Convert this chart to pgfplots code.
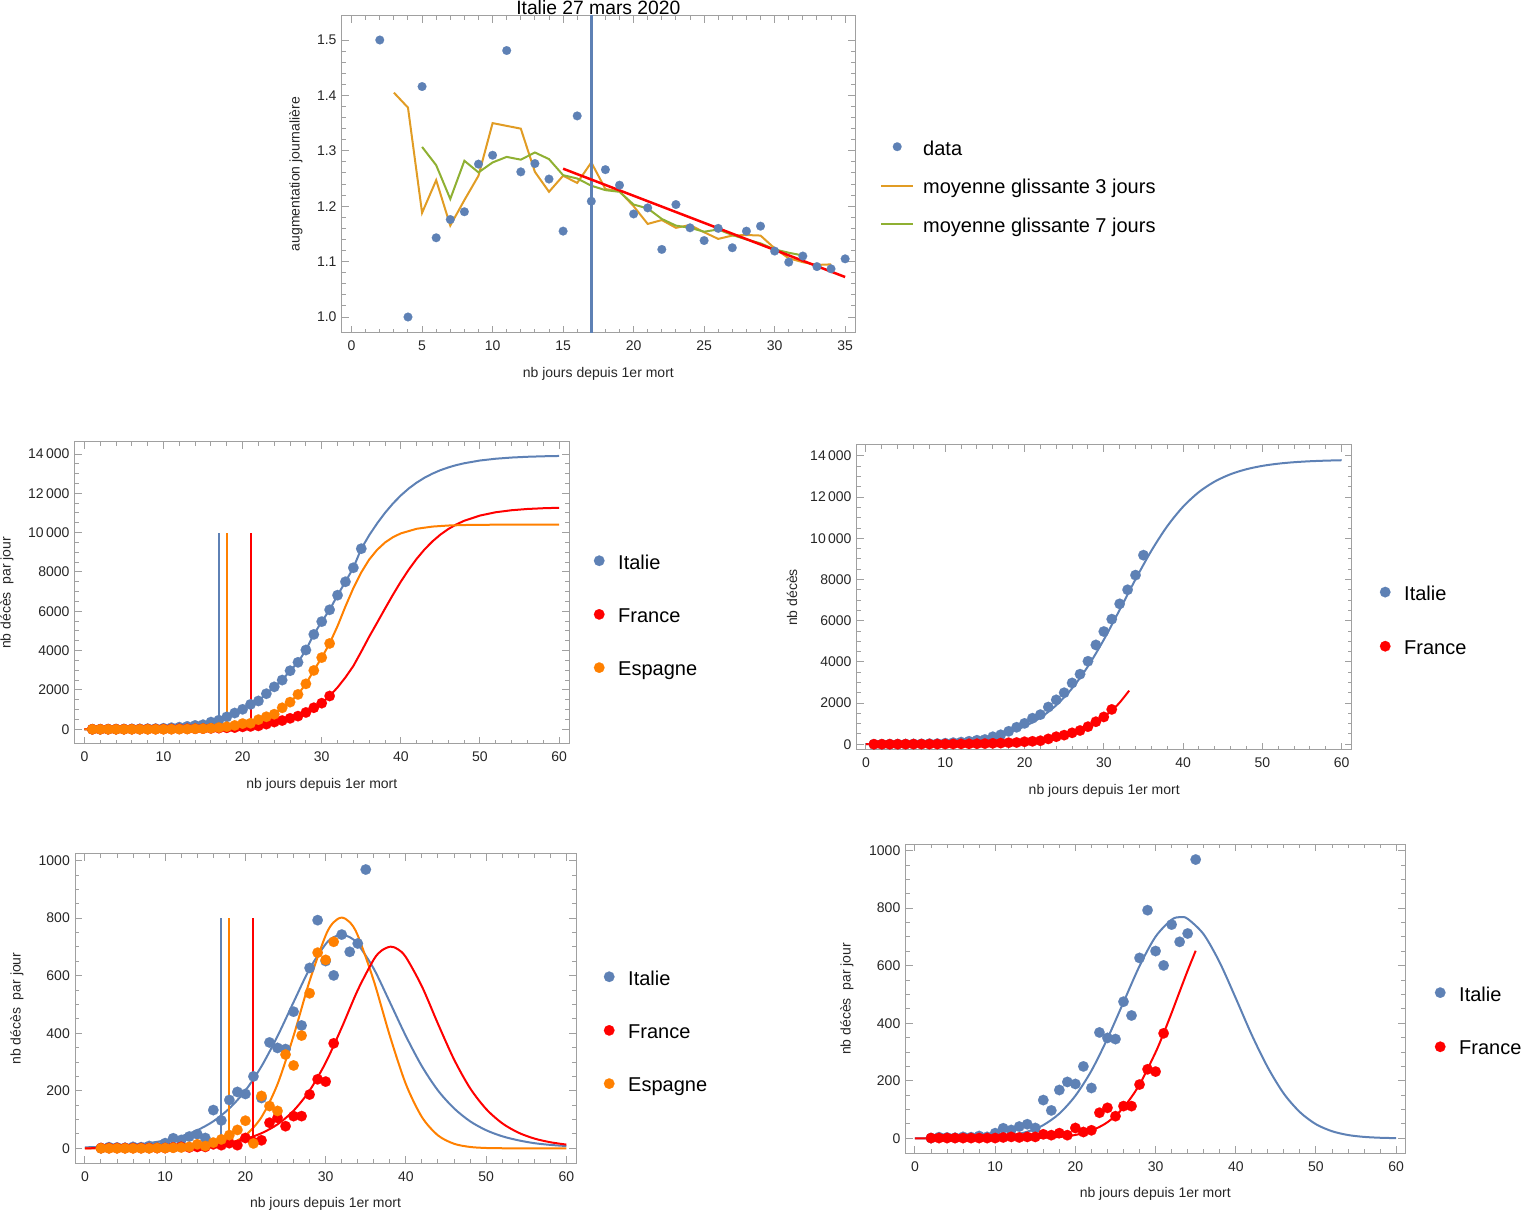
\documentclass[border=0pt]{standalone}
\usepackage{fontspec}
\setmainfont{Liberation Sans}
\usepackage{pgfplots}
\pgfplotsset{compat=1.18}
\definecolor{mblue}{HTML}{5E81B5}
\definecolor{morange}{HTML}{E19C24}
\definecolor{mgreen}{HTML}{8FB032}
\definecolor{mred}{HTML}{FF0000}
\definecolor{orng}{HTML}{FF8000}
\definecolor{framegray}{HTML}{A0A0A0}
\definecolor{txtgray}{HTML}{262626}
\pgfplotsset{
  mma/.style={
    scale only axis,
    axis line style={draw=framegray, line width=1pt},
    tick style={draw=framegray, line width=1pt},
    tick align=inside,
    tick pos=both,
    major tick length=7pt,
    minor tick length=4pt,
    scaled ticks=false,
    /pgf/number format/assume math mode=true,
    tick label style={font=\fontsize{14}{16}\selectfont, text=txtgray},
    xticklabel style={anchor=north, inner sep=0pt, yshift=-8pt},
    yticklabel style={anchor=east, inner sep=0pt, xshift=-5pt},
    label style={font=\fontsize{14}{16}\selectfont, text=txtgray},
    legend cell align=left,
    legend style={draw=none, fill=none, inner sep=0pt, anchor=west,
      font=\fontsize{20}{24}\selectfont, row sep=38pt, column sep=13.7pt,
      nodes={inner sep=0pt}},
    legend image code/.code={\draw[mark repeat=2,mark phase=2,#1] plot coordinates {(0pt,2pt) (10pt,2pt) (20pt,2pt)};},
  },
  dots/.style={only marks, mark=*, mark size=5.3pt, mark options={line width=0.1pt}},
  curve/.style={no marks, line width=2pt},
}
\begin{document}
\begin{tikzpicture}
\useasboundingbox (0pt,0pt) rectangle (1522pt,1212pt);

% ---------------- Panel 1 (top) ----------------
\begin{axis}[mma, at={(341.7pt,879.3pt)}, anchor=south west,
  width=513.3pt, height=317pt,
  xmin=-0.7, xmax=35.7, ymin=0.9717, ymax=1.5439,
  xtick={0,5,10,15,20,25,30,35}, xticklabels={0,5,10,15,20,25,30,35}, minor x tick num=4,
  ytick={1.0,1.1,1.2,1.3,1.4,1.5}, yticklabels={1.0,1.1,1.2,1.3,1.4,1.5}, minor y tick num=4,
  xlabel={nb jours depuis 1er mort}, ylabel={augmentation journalière},
  xlabel style={at={(axis description cs:0.5,-0.1303)}, anchor=center},
  ylabel style={at={(axis description cs:-0.089,0.5)}, anchor=center},
  title={Italie 27 mars 2020},
  every axis title shift=0pt,
  title style={at={(axis description cs:0.5,1)}, anchor=base, yshift=1.3pt, inner sep=0pt, font=\fontsize{19.3}{22}\selectfont, text=black},
  legend style={at={(1.0487,0.4580)}, row sep=22.8pt, column sep=9pt},
  legend image code/.code={\draw[mark repeat=2,mark phase=2,#1] plot coordinates {(0pt,2pt) (16pt,2pt) (32pt,2pt)};},
]
\addplot[only marks, mark=*, mark size=4.4pt, mark options={line width=0.1pt}, color=mblue] coordinates {
(2,1.500) (4,1.000) (5,1.416) (6,1.143) (7,1.176) (8,1.190) (9,1.276) (10,1.292)
(11,1.481) (12,1.262) (13,1.277) (14,1.249) (15,1.155) (16,1.363) (17,1.209) (18,1.266)
(19,1.238) (20,1.186) (21,1.197) (22,1.122) (23,1.203) (24,1.161) (25,1.138) (26,1.160)
(27,1.125) (28,1.155) (29,1.164) (30,1.119) (31,1.099) (32,1.110) (33,1.091) (34,1.087) (35,1.105)};
\addlegendentry{data}
\addplot[no marks, line width=2pt, color=morange] coordinates {
(3,1.405) (4,1.378) (5,1.188) (6,1.247) (7,1.165) (8,1.211) (9,1.255) (10,1.350)
(11,1.345) (12,1.340) (13,1.262) (14,1.226) (15,1.255) (16,1.242) (17,1.279) (18,1.231)
(19,1.227) (20,1.200) (21,1.168) (22,1.175) (23,1.161) (24,1.166) (25,1.153) (26,1.141)
(27,1.147) (28,1.148) (29,1.147) (30,1.124) (31,1.106) (32,1.099) (33,1.094) (34,1.095)};
\addlegendentry{moyenne glissante 3 jours}
\addplot[no marks, line width=2pt, color=mgreen] coordinates {
(5,1.307) (6,1.274) (7,1.213) (8,1.282) (9,1.261) (10,1.279) (11,1.289) (12,1.284)
(13,1.297) (14,1.285) (15,1.256) (16,1.250) (17,1.237) (18,1.229) (19,1.226) (20,1.203)
(21,1.196) (22,1.177) (23,1.165) (24,1.161) (25,1.154) (26,1.158) (27,1.148) (28,1.140)
(29,1.133) (30,1.122) (31,1.116) (32,1.111)};
\addlegendentry{moyenne glissante 7 jours}
\addplot[no marks, line width=2.5pt, color=mblue, forget plot] coordinates {(17,0.9) (17,1.6)};
\addplot[no marks, line width=2.5pt, color=mred, forget plot] coordinates {(15,1.2677) (35,1.0722)};
\end{axis}

% ---------------- Panel 2 (middle left) ----------------
\begin{axis}[mma, at={(74.6pt,468pt)}, anchor=south west,
  width=494.4pt, height=302.3pt,
  xmin=-1.24, xmax=61.26, ymin=-748, ymax=14626,
  xtick={0,10,20,30,40,50,60}, xticklabels={0,10,20,30,40,50,60}, minor x tick num=4,
  ytick={0,2000,4000,6000,8000,10000,12000,14000},
  yticklabels={0,2000,4000,6000,8000,10\,000,12\,000,14\,000}, minor y tick num=3,
  xlabel={nb jours depuis 1er mort}, ylabel={nb décès\ \ par jour},
  xlabel style={at={(axis description cs:0.5,-0.1356)}, anchor=center},
  ylabel style={at={(axis description cs:-0.1367,0.5)}, anchor=center},
  legend style={at={(1.0500,0.4234)}},
]
\addplot[curve, color=mblue, forget plot] coordinates {
(0,1) (1,2) (2,3) (3,7) (4,10) (5,12) (6,17) (7,21) (8,29) (9,34) (10,52) (11,79) (12,107)
(13,148) (14,197) (15,233) (16,366) (17,463) (18,631) (19,827) (20,1016) (21,1266) (22,1441)
(23,1809) (24,2158) (25,2503) (26,2978) (27,3405) (28,4032) (29,4825) (30,5476) (31,6077)
(32,6820) (33,7503) (34,8215) (35,9184) (36,9868) (37,10469) (38,11007) (39,11481) (40,11893)
(41,12246) (42,12544) (43,12795) (44,13003) (45,13176) (46,13317) (47,13434) (48,13528)
(50,13669) (52,13760) (54,13820) (56,13859) (58,13884) (60,13900)};
\addplot[dots, color=mblue] coordinates {
(1,2) (2,3) (3,7) (4,10) (5,12) (6,17) (7,21) (8,29) (9,34) (10,52) (11,79) (12,107)
(13,148) (14,197) (15,233) (16,366) (17,463) (18,631) (19,827) (20,1016) (21,1266) (22,1441)
(23,1809) (24,2158) (25,2503) (26,2978) (27,3405) (28,4032) (29,4825) (30,5476) (31,6077)
(32,6820) (33,7503) (34,8215) (35,9184)};
\addlegendentry{Italie}
\addplot[curve, color=mred, forget plot] coordinates {
(0,2) (1,3) (2,4) (3,5) (4,6) (5,7) (6,8) (7,9) (8,10) (9,11) (10,12) (11,15) (12,20) (13,23)
(14,28) (15,33) (16,47) (17,58) (18,76) (19,87) (20,123) (21,145) (22,173) (23,262) (24,368)
(25,445) (26,557) (27,669) (28,856) (29,1096) (30,1328) (31,1693) (32,2130) (33,2640)
(34,3220) (35,3950) (36,4710) (37,5419) (38,6138) (39,6841) (40,7508) (41,8120) (42,8668)
(43,9148) (44,9557) (45,9900) (46,10184) (47,10415) (48,10602) (50,10869) (52,11038)
(54,11140) (56,11204) (58,11242) (60,11265)};
\addplot[dots, color=mred] coordinates {
(1,3) (2,4) (3,5) (4,6) (5,7) (6,8) (7,9) (8,10) (9,11) (10,12) (11,15) (12,20) (13,23)
(14,28) (15,33) (16,47) (17,58) (18,76) (19,87) (20,123) (21,145) (22,173) (23,262) (24,368)
(25,445) (26,557) (27,669) (28,856) (29,1096) (30,1328) (31,1693)};
\addlegendentry{France}
\addplot[curve, color=orng, forget plot] coordinates {
(0,0) (1,0) (2,0) (3,0) (4,0) (5,0) (6,0) (7,0) (8,0) (9,1) (10,2) (11,4) (12,7) (13,12)
(14,26) (15,34) (16,54) (17,85) (18,131) (19,195) (20,291) (21,308) (22,490) (23,637)
(24,767) (25,1093) (26,1381) (27,1773) (28,2312) (29,2992) (30,3647) (31,4365) (32,5250)
(33,6250) (34,7180) (35,7980) (36,8633) (37,9126) (38,9498) (39,9769) (40,9963) (42,10197)
(44,10309) (46,10363) (48,10388) (50,10400) (55,10408) (60,10410)};
\addplot[dots, color=orng] coordinates {
(1,0) (2,0) (3,0) (4,0) (5,0) (6,0) (7,0) (8,0) (9,1) (10,2) (11,4) (12,7) (13,12)
(14,26) (15,34) (16,54) (17,85) (18,131) (19,195) (20,291) (21,308) (22,490) (23,637)
(24,767) (25,1093) (26,1381) (27,1773) (28,2312) (29,2992) (30,3647) (31,4365)};
\addlegendentry{Espagne}
\addplot[curve, color=mblue, forget plot] coordinates {(17,0) (17,10000)};
\addplot[curve, color=orng, forget plot] coordinates {(18,0) (18,10000)};
\addplot[curve, color=mred, forget plot] coordinates {(21,0) (21,10000)};
\end{axis}

% ---------------- Panel 3 (middle right) ----------------
\begin{axis}[mma, at={(856.7pt,462pt)}, anchor=south west,
  width=495pt, height=305pt,
  xmin=-1.17, xmax=61.27, ymin=-277, ymax=14534,
  xtick={0,10,20,30,40,50,60}, xticklabels={0,10,20,30,40,50,60}, minor x tick num=4,
  ytick={0,2000,4000,6000,8000,10000,12000,14000},
  yticklabels={0,2000,4000,6000,8000,10\,000,12\,000,14\,000}, minor y tick num=3,
  xlabel={nb jours depuis 1er mort}, ylabel={nb décès},
  xlabel style={at={(axis description cs:0.5,-0.1344)}, anchor=center},
  ylabel style={at={(axis description cs:-0.1307,0.5)}, anchor=center},
  legend style={at={(1.0566,0.4230)}, row sep=38.5pt},
]
\addplot[curve, smooth, color=mblue, forget plot] coordinates {
(0,12) (2,19) (4,29) (6,45) (8,69) (10,106) (12,163) (14,249) (16,379) (18,575) (20,868)
(22,1292) (24,1895) (26,2718) (28,3785) (30,5079) (32,6528) (34,8012) (36,9399) (38,10589)
(40,11537) (42,12250) (44,12762) (46,13117) (48,13358) (50,13520) (52,13627) (54,13698)
(56,13744) (58,13774) (60,13794)};
\addplot[curve, smooth, color=mred, forget plot] coordinates {
(0,2.4) (4,5.7) (8,13) (12,30) (16,70) (18,107) (20,163) (22,248) (24,378) (26,575)
(28,874) (29,1079) (30,1331) (31,1641) (32,2026) (33.2,2606)};
\addplot[dots, color=mblue] coordinates {
(1,2) (2,3) (3,7) (4,10) (5,12) (6,17) (7,21) (8,29) (9,34) (10,52) (11,79) (12,107)
(13,148) (14,197) (15,233) (16,366) (17,463) (18,631) (19,827) (20,1016) (21,1266) (22,1441)
(23,1809) (24,2158) (25,2503) (26,2978) (27,3405) (28,4032) (29,4825) (30,5476) (31,6077)
(32,6820) (33,7503) (34,8215) (35,9184)};
\addlegendentry{Italie}
\addplot[dots, color=mred] coordinates {
(1,3) (2,4) (3,5) (4,6) (5,7) (6,8) (7,9) (8,10) (9,11) (10,12) (11,15) (12,20) (13,23)
(14,28) (15,33) (16,47) (17,58) (18,76) (19,87) (20,123) (21,145) (22,173) (23,262) (24,368)
(25,445) (26,557) (27,669) (28,856) (29,1096) (30,1328) (31,1693)};
\addlegendentry{France}
\end{axis}

% ---------------- Panel 4 (bottom left) ----------------
\begin{axis}[mma, at={(75pt,48.7pt)}, anchor=south west,
  width=501pt, height=309.3pt,
  xmin=-1.24, xmax=61.2, ymin=-52, ymax=1023,
  xtick={0,10,20,30,40,50,60}, xticklabels={0,10,20,30,40,50,60}, minor x tick num=4,
  ytick={0,200,400,600,800,1000}, yticklabels={0,200,400,600,800,1000}, minor y tick num=3,
  xlabel={nb jours depuis 1er mort}, ylabel={nb décès\ \ par jour},
  xlabel style={at={(axis description cs:0.5,-0.1316)}, anchor=center},
  ylabel style={at={(axis description cs:-0.1158,0.5)}, anchor=center},
  legend style={at={(1.0553,0.4245)}},
]
\addplot[curve, smooth, color=mblue, forget plot] coordinates {
(0,3.4) (2,5.2) (4,7.9) (6,12.1) (8,18.4) (10,27.7) (12,41.9) (14,63) (16,94) (18,138.7)
(20,201) (22,285) (24,390) (26,508) (28,624) (30,710) (31,734) (32,742) (33,734) (34,710)
(36,624) (38,508) (40,390) (42,285) (44,201) (46,139) (48,94) (50,63) (52,42) (54,28)
(56,18) (58,12) (60,8)};
\addplot[curve, smooth, color=orng, forget plot] coordinates {
(0,0) (10,0) (12,0.3) (14,1.2) (16,4.8) (18,15.9) (20,45) (22,108.5) (24,223) (26,391)
(28,582) (30,740) (31,786) (32,802) (33,786) (34,740) (36,582) (38,391) (40,223)
(42,108.5) (44,45) (46,15.9) (48,4.8) (50,1.2) (52,0.3) (56,0) (60,0)};
\addplot[curve, smooth, color=mred, forget plot] coordinates {
(0,0.25) (4,0.66) (8,1.8) (12,4.7) (14,7.6) (16,12.4) (18,20.3) (20,32.6) (22,52.5)
(24,83.3) (26,130.8) (28,200.9) (30,297.8) (32,419.6) (34,550) (36,656.5) (37,688)
(38.1,701) (39,692) (40,664.4) (42,562.6) (44,432.7) (46,309) (48,209) (50,136.7)
(52,87.2) (54,54.8) (56,34.1) (58,21.2) (60,13)};
\addplot[dots, color=mblue] coordinates {
(2,1) (3,4) (4,3) (5,2) (6,5) (7,4) (8,8) (9,5) (10,18) (11,35) (12,29) (13,41) (14,49)
(15,36) (16,133) (17,97) (18,168) (19,196) (20,189) (21,250) (22,175) (23,368) (24,349)
(25,345) (26,475) (27,427) (28,627) (29,793) (30,651) (31,601) (32,743) (33,683) (34,712) (35,969)};
\addlegendentry{Italie}
\addplot[dots, color=mred] coordinates {
(2,1) (3,1) (4,1) (5,1) (6,1) (7,1) (8,1) (9,1) (10,1) (11,3) (12,5) (13,3) (14,5) (15,5)
(16,14) (17,11) (18,18) (19,11) (20,36) (21,22) (22,28) (23,89) (24,106) (25,77) (26,112)
(27,112) (28,187) (29,240) (30,232) (31,365)};
\addlegendentry{France}
\addplot[dots, color=orng] coordinates {
(2,0) (3,0) (4,0) (5,0) (6,0) (7,0) (8,0) (9,1) (10,1) (11,2) (12,3) (13,5) (14,14) (15,8)
(16,20) (17,31) (18,46) (19,64) (20,96) (21,17) (22,182) (23,147) (24,130) (25,326) (26,288)
(27,392) (28,539) (29,680) (30,655) (31,718)};
\addlegendentry{Espagne}
\addplot[curve, color=mblue, forget plot] coordinates {(17,0) (17,800)};
\addplot[curve, color=orng, forget plot] coordinates {(18,0) (18,800)};
\addplot[curve, color=mred, forget plot] coordinates {(21,0) (21,800)};
\end{axis}

% ---------------- Panel 5 (bottom right) ----------------
\begin{axis}[mma, at={(905.5pt,58.7pt)}, anchor=south west,
  width=499.5pt, height=309pt,
  xmin=-1.18, xmax=61.1, ymin=-52, ymax=1022,
  xtick={0,10,20,30,40,50,60}, xticklabels={0,10,20,30,40,50,60}, minor x tick num=4,
  ytick={0,200,400,600,800,1000}, yticklabels={0,200,400,600,800,1000}, minor y tick num=3,
  xlabel={nb jours depuis 1er mort}, ylabel={nb décès\ \ par jour},
  xlabel style={at={(axis description cs:0.5,-0.1317)}, anchor=center},
  ylabel style={at={(axis description cs:-0.1171,0.5)}, anchor=center},
  legend style={at={(1.0595,0.4265)}, row sep=38.5pt},
]
\addplot[curve, smooth, color=mblue, forget plot] coordinates {
(0,0) (5,0.4) (8,1.8) (10,4.5) (12,10.6) (14,23) (16,46) (18,86) (20,148) (22,235) (24,347)
(26,473) (28,599) (30,701) (32,760) (33.1,769) (34,763) (36,709) (38,611) (40,487) (42,359)
(44,246) (46,155) (48,91) (50,49) (52,24.7) (54,11.5) (56,5) (58,2) (60,0.7)};
\addplot[curve, smooth, color=mred, forget plot] coordinates {
(0,0) (10,0.05) (15,1) (18,4.7) (20,11.8) (22,27) (24,56) (26,107) (28,187) (30,299)
(31,365) (32,436) (33,510) (34,583) (35,652)};
\addplot[dots, color=mblue] coordinates {
(2,1) (3,4) (4,3) (5,2) (6,5) (7,4) (8,8) (9,5) (10,18) (11,35) (12,29) (13,41) (14,49)
(15,36) (16,133) (17,97) (18,168) (19,196) (20,189) (21,250) (22,175) (23,368) (24,349)
(25,345) (26,475) (27,427) (28,627) (29,793) (30,651) (31,601) (32,743) (33,683) (34,712) (35,969)};
\addlegendentry{Italie}
\addplot[dots, color=mred] coordinates {
(2,1) (3,1) (4,1) (5,1) (6,1) (7,1) (8,1) (9,1) (10,1) (11,3) (12,5) (13,3) (14,5) (15,5)
(16,14) (17,11) (18,18) (19,11) (20,36) (21,22) (22,28) (23,89) (24,106) (25,77) (26,112)
(27,112) (28,187) (29,240) (30,232) (31,365)};
\addlegendentry{France}
\end{axis}
\end{tikzpicture}
\end{document}
